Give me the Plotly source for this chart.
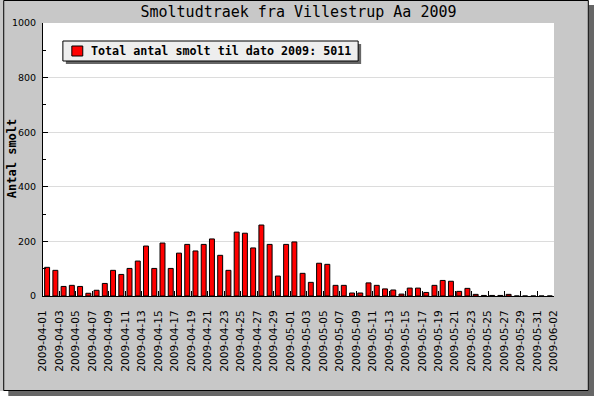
import plotly.graph_objects as go
import pandas as pd

# ---- data ----
dates = [d.strftime("%Y-%m-%d") for d in pd.date_range("2009-04-01", "2009-06-02", freq="D")]
counts = [105, 94, 35, 39, 35, 10, 21, 46, 94, 79, 101,
          128, 183, 101, 194, 101, 157, 189, 165, 189, 209, 149, 94,
          234, 230, 176, 260, 189, 73, 189, 198, 83, 50, 120, 116,
          39, 39, 11, 11, 48, 39, 26, 22, 7, 29, 29,
          13, 39, 57, 54, 17, 28, 6, 2, 2, 2, 6,
          0, 0, 0, 0, 0, 0]
x_tick_labels = dates[::2]
y_ticks = [0, 200, 400, 600, 800, 1000]
total = 5011
title_text = "Smoltudtraek fra Villestrup Aa 2009"
legend_text = f"Total antal smolt til dato 2009: {total}"
y_title = "Antal smolt"

# ---- geometry helpers (pixel -> paper) ----
W, H = 594, 396
ML, MR, MT, MB = 40, 40, 23, 100
PW = W - ML - MR
PH = H - MT - MB


def px(x):
    return (x - ML) / PW


def py(y):
    return (H - MB - y) / PH


def rect(x0, y0, x1, y1, fill, line_color=None, lw=0, layer="above"):
    return dict(type="rect", xref="paper", yref="paper",
                x0=px(x0), x1=px(x1), y0=py(y1), y1=py(y0),
                fillcolor=fill, layer=layer,
                line=dict(color=line_color or fill, width=lw))


fig = go.Figure()
fig.add_trace(go.Bar(
    x=dates, y=counts, name=legend_text,
    xperiod=86400000, xperiodalignment="middle",
    marker=dict(color="#ff0000", line=dict(color="black", width=1)),
    showlegend=False,
))

shapes = [
    # frame shadow and corners
    rect(589, 5, 598, 400, "#666666"),
    rect(5, 391, 598, 400, "#666666"),
    rect(589, -4, 598, 5, "white"),
    rect(-4, 391, 5, 400, "white"),
    dict(type="rect", xref="paper", yref="paper",
         x0=px(0.5), x1=px(588.5), y0=py(390.5), y1=py(0.5),
         line=dict(color="black", width=1), fillcolor="rgba(0,0,0,0)", layer="above"),
    # legend box
    rect(63, 44, 360, 64, "#666666"),
    rect(60, 41, 357, 61, "#eeeeee", "black", 1),
    rect(69, 46, 80, 56, "#ff0000", "black", 1),
]

annotations = [
    dict(text=legend_text, xref="paper", yref="paper", x=px(86), y=py(51),
         xanchor="left", yanchor="middle", showarrow=False,
         font=dict(family="DejaVu Sans Mono", size=11.7, color="black", weight="bold")),
    dict(text=y_title, xref="paper", yref="paper", x=px(9), y=py(159),
         xanchor="center", yanchor="middle", showarrow=False, textangle=-90,
         font=dict(family="DejaVu Sans Mono", size=12, color="black", weight="bold")),
]

fig.update_layout(
    width=W, height=H,
    margin=dict(l=ML, r=MR, t=MT, b=MB, pad=0),
    paper_bgcolor="#c8c8c8", plot_bgcolor="white",
    bargap=0.4,
    title=dict(text=title_text, x=0.5, xref="paper", xanchor="center",
               y=1 - 12 / H, yref="container", yanchor="middle",
               font=dict(family="DejaVu Sans Mono", size=15, color="black")),
    shapes=shapes, annotations=annotations,
    xaxis=dict(type="date", range=["2009-04-01", "2009-06-02 00:10"],
               tickmode="array", tickvals=x_tick_labels, ticktext=x_tick_labels,
               tickangle=-90, ticks="inside", ticklen=5, tickcolor="black",
               showline=True, linecolor="black", linewidth=1,
               showgrid=False, zeroline=False, ticklabelstandoff=9,
               tickfont=dict(family="DejaVu Sans", size=10.6, color="black")),
    yaxis=dict(range=[0, 1000], tickmode="array", tickvals=y_ticks,
               ticks="inside", ticklen=5, tickcolor="black",
               showline=True, linecolor="black", linewidth=1,
               showgrid=True, gridcolor="#dcdcdc", gridwidth=1, zeroline=False,
               minor=dict(ticks="inside", ticklen=3, tickcolor="black", dtick=100,
                          showgrid=False),
               ticklabelstandoff=4,
               tickfont=dict(family="DejaVu Sans", size=9.5, color="black")),
)

fig.write_html("out.html", config={"displayModeBar": False},
               post_script="document.body.style.margin='0';document.body.style.overflow='hidden';")
